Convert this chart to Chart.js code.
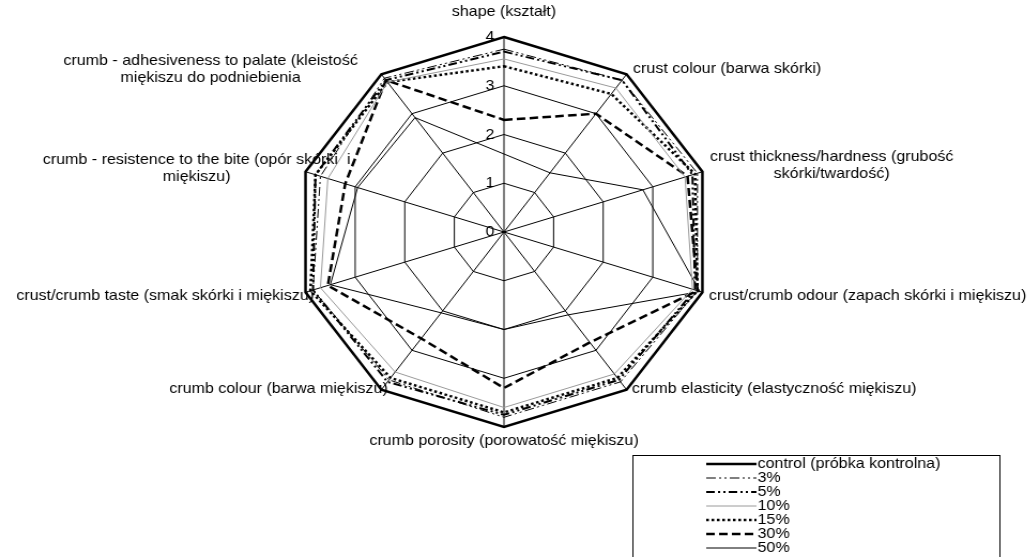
<!DOCTYPE html>
<html>
<head>
<meta charset="utf-8">
<script src="https://cdn.jsdelivr.net/npm/chart.js@4.4.1/dist/chart.umd.min.js"></script>
<style>
    html, body { margin: 0; padding: 0; background: #fff; overflow: hidden; }
    /* the original picture is a little wider than tall, so stretch it */
    #wrap { position: absolute; left: 0; top: 0; width: 960px; height: 557px;
            transform: scaleX(1.07); transform-origin: 0 0; }
</style>
</head>
<body>
<div id="wrap"><canvas id="radarChart"></canvas></div>
<script>
const categories = [
    ["shape (kształt)"],
    ["crust colour (barwa skórki)"],
    ["crust thickness/hardness (grubość", "skórki/twardość)"],
    ["crust/crumb odour (zapach skórki i miękiszu)"],
    ["crumb elasticity (elastyczność miękiszu)"],
    ["crumb porosity (porowatość miękiszu)"],
    ["crumb colour (barwa miękiszu)"],
    ["crust/crumb taste (smak skórki i miękiszu)"],
    ["crumb - resistence to the bite (opór skórki  i", "miękiszu)"],
    ["crumb - adhesiveness to palate (kleistość", "miękiszu do podniebienia"]
];

const seriesNames = ["control (próbka kontrolna)", "3%", "5%", "10%", "15%", "30%", "50%"];

const control = [4.0, 4.0, 4.0, 4.0, 4.0, 4.0, 4.0, 4.0, 4.0, 4.0];
const pct3    = [3.75, 3.85, 3.9, 3.9, 3.8, 3.8, 3.75, 3.85, 3.7, 3.9];
const pct5    = [3.7, 3.85, 3.8, 3.85, 3.75, 3.75, 3.8, 3.85, 3.8, 3.85];
const pct10   = [3.55, 3.65, 3.65, 3.8, 3.6, 3.6, 3.55, 3.7, 3.55, 3.8];
const pct15   = [3.4, 3.5, 3.85, 3.9, 3.7, 3.7, 3.7, 3.9, 3.8, 3.8];
const pct30   = [2.3, 3.0, 3.7, 3.9, 2.8, 3.2, 2.7, 3.55, 3.2, 3.85];
const pct50   = [1.6, 1.5, 2.8, 3.95, 2.1, 2.0, 2.05, 3.5, 2.95, 2.9];

const tickLabels = ["0", "1", "2", "3", "4"];

const FONT = "15px 'Liberation Sans', Arial, sans-serif";

// where each category text sits relative to its spoke end
const labelPlace = [
    { align: "center", dx: 0, dy: -25 },
    { align: "left", dx: 6, dy: -5 },
    { align: "left", dx: 7, dy: -6 },
    { align: "left", dx: 6, dy: 4 },
    { align: "left", dx: 5, dy: -1 },
    { align: "center", dx: 0, dy: 14 },
    { align: "right", dx: 6, dy: -1 },
    { align: "right", dx: 8, dy: 4 },
    { align: "right", dx: 42, dy: -3 },
    { align: "right", dx: -22, dy: -5 }
];

const excelLabels = {
    id: "excelLabels",
    afterDraw(chart) {
        const s = chart.scales.r;
        const c = chart.ctx;
        c.save();
        c.font = FONT;
        c.fillStyle = "#000";
        c.textBaseline = "middle";
        c.textAlign = "center";

        categories.forEach((lines, i) => {
            const p = s.getPointPositionForValue(i, s.max);
            const pl = labelPlace[i];
            const w = Math.max(...lines.map(l => c.measureText(l).width));
            let cx = p.x + pl.dx;
            if (pl.align === "left") cx += w / 2;
            if (pl.align === "right") cx -= w / 2;
            const lh = 17;
            const top = p.y + pl.dy - (lines.length - 1) * lh / 2;
            lines.forEach((l, k) => c.fillText(l, cx, top + k * lh));
        });

        // ring values, left of the first spoke
        c.textAlign = "right";
        tickLabels.forEach((t, i) => {
            const p = s.getPointPositionForValue(0, Number(t));
            c.fillText(t, p.x - 9, p.y);
        });
        c.restore();
    }
};

const boxLegend = {
    id: "boxLegend",
    afterDraw(chart) {
        const c = chart.ctx;
        c.save();
        c.strokeStyle = "#000";
        c.lineWidth = 1;
        c.strokeRect(591.5, 455.5, 343, 110);
        c.font = FONT;
        c.fillStyle = "#000";
        c.textBaseline = "middle";
        c.textAlign = "left";
        chart.data.datasets.forEach((ds, i) => {
            const y = 464 + i * 14;
            c.beginPath();
            c.setLineDash(ds.borderDash || []);
            c.lineWidth = ds.borderWidth;
            c.strokeStyle = ds.borderColor;
            c.moveTo(660, y);
            c.lineTo(707, y);
            c.stroke();
            c.setLineDash([]);
            c.fillText(ds.label, 708, y);
        });
        c.restore();
    }
};

function series(label, data, color, width, dash) {
    return {
        label: label,
        data: data,
        borderColor: color,
        borderWidth: width,
        borderDash: dash,
        backgroundColor: "transparent",
        fill: false,
        pointRadius: 0,
        pointHoverRadius: 0
    };
}

const ctx = document.getElementById("radarChart").getContext("2d");

new Chart(ctx, {
    type: "radar",
    data: {
        labels: categories,
        datasets: [
            series(seriesNames[0], control, "#000", 2.5, []),
            series(seriesNames[1], pct3, "#000", 1, [9, 3, 2, 3, 2, 3]),
            series(seriesNames[2], pct5, "#000", 2, [8, 3, 2, 3, 2, 3]),
            series(seriesNames[3], pct10, "#9a9a9a", 1, []),
            series(seriesNames[4], pct15, "#000", 2.5, [2.5, 2.5]),
            series(seriesNames[5], pct30, "#000", 2.5, [8, 4]),
            series(seriesNames[6], pct50, "#000", 1, [])
        ]
    },
    options: {
        responsive: true,
        maintainAspectRatio: false,
        animation: false,
        layout: { padding: { top: 37, bottom: 130, left: 276, right: 294 } },
        plugins: {
            legend: { display: false },
            tooltip: { enabled: false }
        },
        elements: { line: { tension: 0 } },
        scales: {
            r: {
                min: 0,
                max: 4,
                ticks: { display: false, stepSize: 1 },
                grid: { color: "#000", lineWidth: 1 },
                angleLines: { color: "#000", lineWidth: 1 },
                pointLabels: { display: false }
            }
        }
    },
    plugins: [excelLabels, boxLegend]
});
</script>
</body>
</html>
